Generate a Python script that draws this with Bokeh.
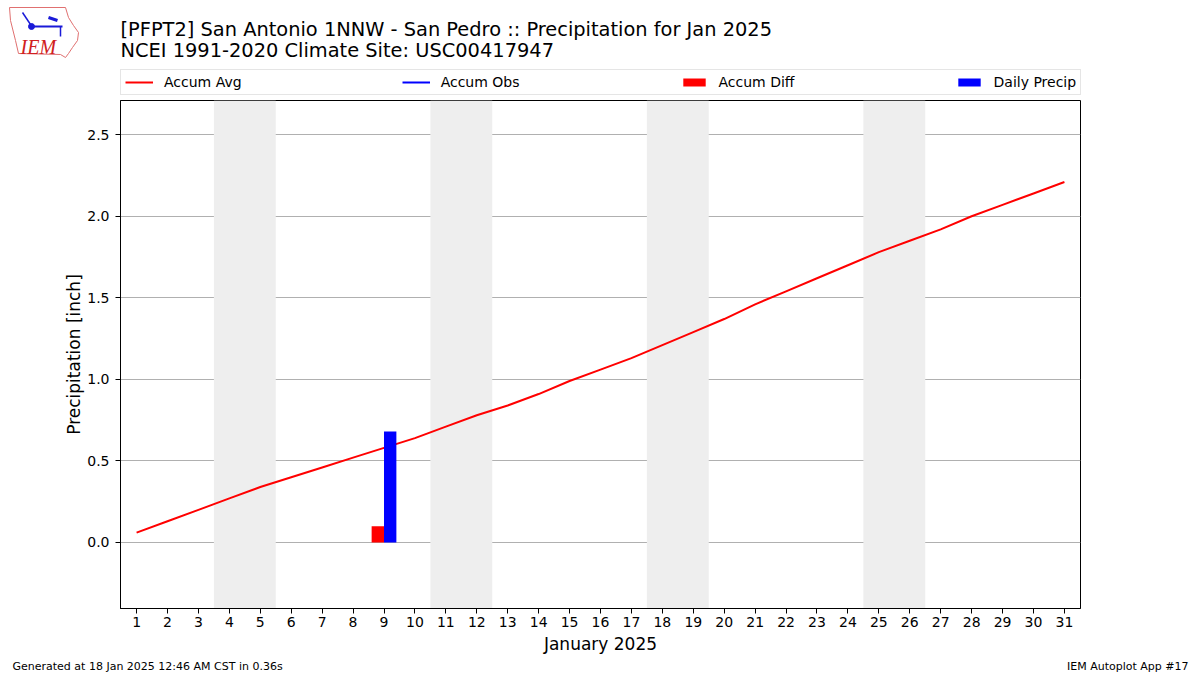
import datetime
from bokeh.plotting import figure
from bokeh.layouts import column
from bokeh.models import (Range1d, FixedTicker, PrintfTickFormatter, Legend,
                          LegendItem, BoxAnnotation, ColumnDataSource)
from bokeh.core.properties import value
from bokeh.transform import dodge
from bokeh.embed import file_html
from bokeh.resources import INLINE

# ---------------- data ----------------
days = list(range(1, 32))
accum_avg = [0.06, 0.13, 0.20, 0.27, 0.34, 0.40, 0.46, 0.52, 0.58, 0.64,
             0.71, 0.78, 0.84, 0.91, 0.99, 1.06, 1.13, 1.21, 1.29, 1.37,
             1.46, 1.54, 1.62, 1.70, 1.78, 1.85, 1.92, 2.00, 2.07, 2.14, 2.21]
obs_days = [9]
daily_precip = [0.68]
accum_obs = [0.68]
accum_diff = [0.10]
y_ticks = [0.0, 0.5, 1.0, 1.5, 2.0, 2.5]
series_names = ["Accum Avg", "Accum Obs", "Accum Diff", "Daily Precip"]
title1 = "[PFPT2] San Antonio 1NNW - San Pedro :: Precipitation for Jan 2025"
title2 = "NCEI 1991-2020 Climate Site: USC00417947"
footer_left = "Generated at 18 Jan 2025 12:46 AM CST in 0.36s"
footer_right = "IEM Autoplot App #17"

FONT = "DejaVu Sans"
W = 1200
HEAD_H = 99      # header strip (logo, titles, legend)
FOOT_H = 15      # footer strip
MAIN_H = 675 - HEAD_H - FOOT_H   # 561
FRAME_TOP, FRAME_BOT = 100, 608


def bare(h, ytop):
    f = figure(width=W, height=h, output_backend="svg", toolbar_location=None,
               x_range=Range1d(0, W), y_range=Range1d(ytop + h, ytop),
               min_border=0, outline_line_color=None, frame_align=False,
               background_fill_color="white", border_fill_color="white")
    f.axis.visible = False
    f.grid.visible = False
    return f


src = ColumnDataSource(dict(x=obs_days, diff=accum_diff, daily=daily_precip))

# ---------------- header ----------------
head = bare(HEAD_H, 0)
head.text(x=[120, 120], y=[29, 50], text=[title1, title2], text_font=value(FONT),
          text_font_size="19.4px", text_color="black", text_baseline="middle",
          text_align="left")
# logo (approximate Iowa outline with IEM text)
outline_x = [9, 65, 68, 73, 78, 77, 72, 68, 65, 60, 18, 15, 10]
outline_y = [7, 7, 17, 25, 32, 40, 47, 53, 57, 54, 53, 40, 20]
head.patch(outline_x, outline_y, fill_alpha=0, line_color="#e07070", line_width=1)
head.line([31, 62], [26, 26], line_color="#1a1ad8", line_width=2)
head.line([22, 30], [12, 24], line_color="#1a1ad8", line_width=1.5)
head.scatter([31], [26], size=6, color="#1a1ad8")
head.line([48, 57], [17, 20], line_color="#1a1ad8", line_width=3)
head.line([60, 60], [26, 36], line_color="#1a1ad8", line_width=1.5)
head.text(x=[20], y=[46], text=["IEM"], text_font=value("Liberation Serif"),
          text_font_style="italic", text_font_size="20px", text_color="#d02020",
          text_baseline="middle", text_align="left")

# legend proxies: same series & styles, hidden in the header (only the legend shows them)
lg_avg = head.line(days, accum_avg, line_color="red", line_width=2, visible=False)
lg_obs = head.line(obs_days, accum_obs, line_color="blue", line_width=2, visible=False)
lg_diff = head.vbar(x="x", top="diff", width=0.4, source=src, fill_color="red",
                    line_color=None, visible=False)
lg_daily = head.vbar(x="x", top="daily", width=0.4, source=src, fill_color="blue",
                     line_color=None, visible=False)
legend = Legend(items=[LegendItem(label=n, renderers=[r]) for n, r in
                       zip(series_names, [lg_avg, lg_obs, lg_diff, lg_daily])],
                orientation="horizontal", location=(120, HEAD_H - 95),
                label_text_font=FONT, label_text_font_size="14px",
                label_text_color="black",
                glyph_width=28, glyph_height=10, label_standoff=11,
                spacing=160, padding=4, margin=0, label_height=16,
                border_line_color="#cccccc", border_line_width=1,
                background_fill_color="white", background_fill_alpha=1.0,
                inactive_fill_alpha=0.0)
head.add_layout(legend, "center")

# ---------------- main chart ----------------
p = figure(width=W, height=MAIN_H, output_backend="svg", toolbar_location=None,
           x_range=Range1d(0.48, 31.52), y_range=Range1d(-0.405, 2.71),
           min_border_left=120, min_border_right=120,
           min_border_top=FRAME_TOP - HEAD_H,
           min_border_bottom=HEAD_H + MAIN_H - FRAME_BOT, frame_align=False,
           background_fill_color="white", border_fill_color="white",
           outline_line_color="black", outline_line_width=1)

wk = [d for d in days if datetime.date(2025, 1, d).weekday() >= 5]
groups = []
for d in wk:
    if groups and groups[-1][-1] == d - 1:
        groups[-1].append(d)
    else:
        groups.append([d])
for g in groups:
    p.add_layout(BoxAnnotation(left=g[0] - 0.5, right=g[-1] + 0.5,
                               fill_color="#eeeeee", fill_alpha=1.0,
                               line_alpha=0, level="underlay"))

p.xgrid.visible = False
p.ygrid.ticker = FixedTicker(ticks=y_ticks)
p.ygrid.grid_line_color = "#b0b0b0"
p.ygrid.grid_line_width = 1

p.line(days, accum_avg, line_color="red", line_width=2)
p.line(obs_days, accum_obs, line_color="blue", line_width=2)
p.vbar(x=dodge("x", -0.2), top="diff", width=0.4, source=src,
       fill_color="red", line_color=None)
p.vbar(x=dodge("x", 0.2), top="daily", width=0.4, source=src,
       fill_color="blue", line_color=None)

for ax in (p.xaxis[0], p.yaxis[0]):
    ax.major_tick_in = 0
    ax.major_tick_out = 5
    ax.minor_tick_out = 0
    ax.minor_tick_in = 0
    ax.axis_line_color = "black"
    ax.major_tick_line_color = "black"
    ax.major_label_text_font = FONT
    ax.major_label_text_font_size = "14px"
    ax.major_label_text_color = "black"
    ax.axis_label_text_font = FONT
    ax.axis_label_text_font_size = "17px"
    ax.axis_label_text_font_style = "normal"
    ax.axis_label_text_color = "black"
p.xaxis.ticker = FixedTicker(ticks=days)
p.xaxis.axis_label = "January 2025"
p.xaxis.major_label_standoff = 3
p.xaxis.axis_label_standoff = 4
p.yaxis.ticker = FixedTicker(ticks=y_ticks)
p.yaxis.formatter = PrintfTickFormatter(format="%.1f")
p.yaxis.axis_label = "Precipitation [inch]"
p.yaxis.major_label_standoff = 6
p.yaxis.axis_label_standoff = 0

# ---------------- footer ----------------
foot = bare(FOOT_H, 660)
foot.text(x=[12], y=[666], text=[footer_left], text_font=value(FONT),
          text_font_size="11px", text_baseline="middle", text_align="left",
          text_color="black")
foot.text(x=[1188], y=[666], text=[footer_right], text_font=value(FONT),
          text_font_size="11px", text_baseline="middle", text_align="right",
          text_color="black")

layout = column(head, p, foot, spacing=0)
open("out.html", "w").write(file_html(layout, INLINE))
